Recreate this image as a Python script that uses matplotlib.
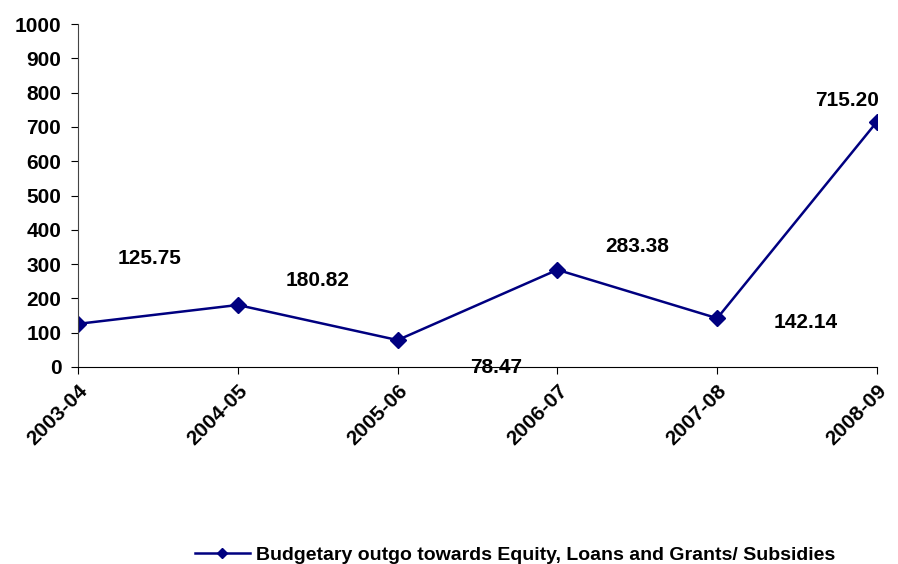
import matplotlib.pyplot as plt

years = ["2003-04", "2004-05", "2005-06", "2006-07", "2007-08", "2008-09"]
outgo = [125.75, 180.82, 78.47, 283.38, 142.14, 715.20]
label_offsets = [(72, 65), (80, 24), (99, -27), (80, 23), (88, -4), (-30, 21)]

plt.rcParams['font.family'] = ['Liberation Sans', 'DejaVu Sans']
plt.rcParams['font.weight'] = 'bold'

fig = plt.figure(figsize=(8.98, 5.64), dpi=100)
ax = fig.add_axes([0.0869, 0.3493, 0.8897, 0.6081])

x = list(range(len(years)))
ax.plot(x, outgo, color='#000080', linewidth=1.8, marker='D', markersize=8,
        label='Budgetary outgo towards Equity, Loans and Grants/ Subsidies')

for xi, v, (dx, dy) in zip(x, outgo, label_offsets):
    ax.annotate(f"{v:.2f}", (xi, v), xytext=(dx, dy), textcoords='offset pixels',
                ha='center', va='center', fontsize=15, fontweight='bold')

ax.set_xlim(0, 5)
ax.set_ylim(0, 1000)
ax.set_yticks(range(0, 1001, 100))
ax.set_xticks(x)
ax.set_xticklabels(years, rotation=45, ha='right', rotation_mode='anchor',
                   fontsize=15, fontweight='bold')
ax.tick_params(axis='y', labelsize=15, direction='out', length=5, pad=7)
ax.tick_params(axis='x', direction='out', length=5, pad=5)
for lab in ax.get_yticklabels():
    lab.set_fontweight('bold')

ax.spines['top'].set_visible(False)
ax.spines['right'].set_visible(False)
ax.spines['left'].set_color('#444444')

fig.legend(loc='center', bbox_to_anchor=(515 / 898, 1 - 555 / 564), frameon=False,
           prop={'size': 14, 'weight': 'bold'}, handlelength=2.8, handletextpad=0.3,
           markerscale=0.7)

fig.savefig('out.png', dpi=100)
